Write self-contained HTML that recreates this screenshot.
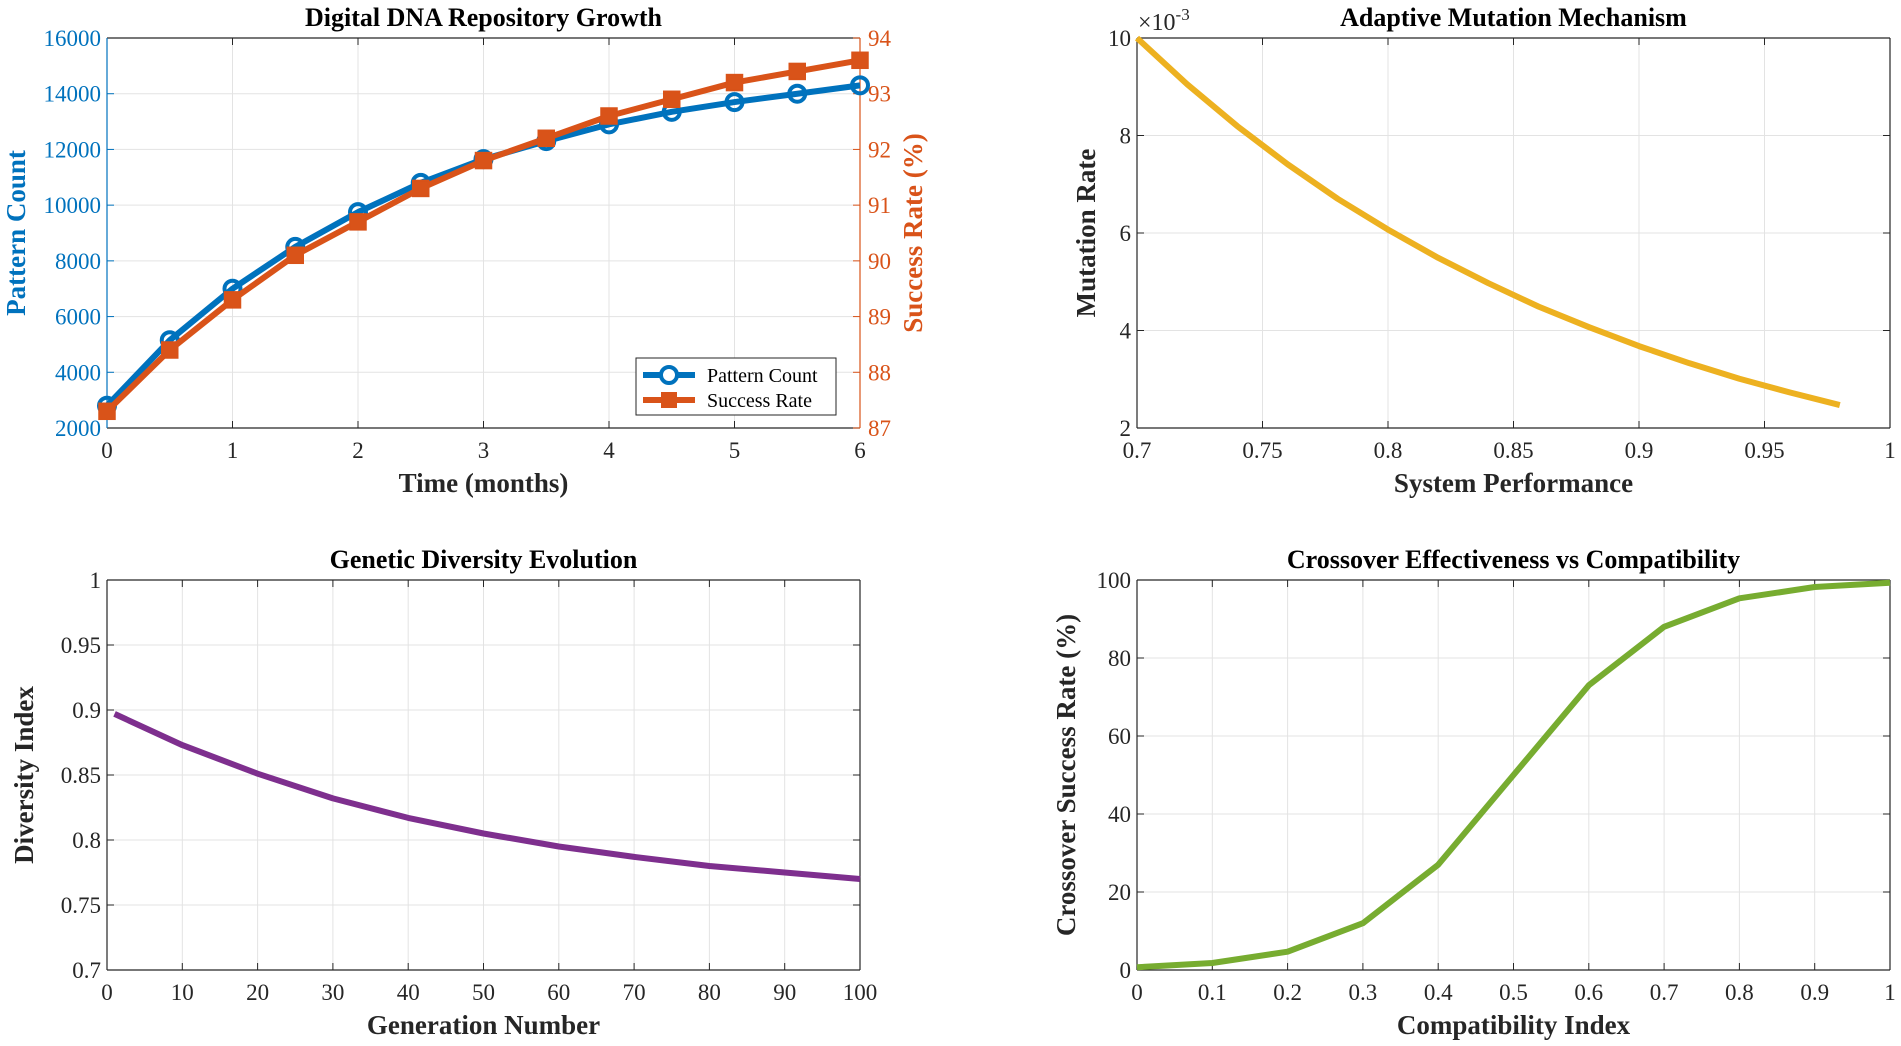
<!DOCTYPE html>
<html><head><meta charset="utf-8"><style>
html,body{margin:0;padding:0;background:#fff;}
svg{display:block;font-family:"Liberation Serif",serif;}
</style></head><body>
<svg id="fig" width="1901" height="1046" viewBox="0 0 1901 1046" xmlns="http://www.w3.org/2000/svg"></svg>
<script>
// Panel 1 data
const p1Months=[0,0.5,1,1.5,2,2.5,3,3.5,4,4.5,5,5.5,6];
const p1Patterns=[2800,5150,7000,8500,9750,10800,11650,12300,12900,13350,13700,14000,14300];
const p1Success=[87.3,88.4,89.3,90.1,90.7,91.3,91.8,92.2,92.6,92.9,93.2,93.4,93.6];
const p1XTicks=[0,1,2,3,4,5,6];
const p1YTicks=[2000,4000,6000,8000,10000,12000,14000,16000];
const p1Y2Ticks=[87,88,89,90,91,92,93,94];
// Panel 2 data
const p2Perf=[0.70,0.72,0.74,0.76,0.78,0.80,0.82,0.84,0.86,0.88,0.90,0.92,0.94,0.96,0.98];
const p2Rate=[10.0,9.05,8.19,7.41,6.70,6.07,5.49,4.97,4.49,4.07,3.68,3.33,3.01,2.73,2.47];
const p2XTicks=[0.7,0.75,0.8,0.85,0.9,0.95,1];
const p2YTicks=[2,4,6,8,10];
// Panel 3 data
const p3Gen=[1,10,20,30,40,50,60,70,80,90,100];
const p3Div=[0.897,0.873,0.851,0.832,0.817,0.805,0.795,0.787,0.780,0.775,0.770];
const p3XTicks=[0,10,20,30,40,50,60,70,80,90,100];
const p3YTicks=[0.7,0.75,0.8,0.85,0.9,0.95,1];
// Panel 4 data
const p4Comp=[0,0.1,0.2,0.3,0.4,0.5,0.6,0.7,0.8,0.9,1];
const p4Rate=[0.7,1.8,4.7,12,27,50,73,88,95.3,98.2,99.3];
const p4XTicks=[0,0.1,0.2,0.3,0.4,0.5,0.6,0.7,0.8,0.9,1];
const p4YTicks=[0,20,40,60,80,100];

const NS="http://www.w3.org/2000/svg";
const svg=document.getElementById('fig');
function mk(tag,attrs,parent,text){const e=document.createElementNS(NS,tag);for(const k in attrs)e.setAttribute(k,attrs[k]);if(text!==undefined)e.textContent=text;(parent||svg).appendChild(e);return e;}

function panel(o){
  const g=mk('g',{});
  
  
  const sx=v=>o.L+(v-o.x0)/(o.x1-o.x0)*(o.R-o.L);
  const sy=v=>o.B-(v-o.y0)/(o.y1-o.y0)*(o.B-o.T);
  o.xt.forEach(t=>{const x=sx(t);
    const l=mk('line',{x1:x,x2:x,y1:o.T,y2:o.B,stroke:'#e3e3e3','stroke-width':1},g);
    
    mk('line',{x1:x,x2:x,y1:o.B,y2:o.B-7,stroke:'#262626','stroke-width':1},g);
    mk('line',{x1:x,x2:x,y1:o.T,y2:o.T+7,stroke:'#262626','stroke-width':1},g);
    const tx=mk('text',{x:x,y:o.B+30,'text-anchor':'middle','font-size':23,fill:'#262626'},g,String(t));
    
  });
  o.yt.forEach(t=>{const y=sy(t);
    const l=mk('line',{x1:o.L,x2:o.R,y1:y,y2:y,stroke:'#e3e3e3','stroke-width':1},g);
    
    mk('line',{x1:o.L,x2:o.L+7,y1:y,y2:y,stroke:o.ycol||'#262626'},g);
    if(!o.y2)mk('line',{x1:o.R,x2:o.R-7,y1:y,y2:y,stroke:'#262626'},g);
    const tx=mk('text',{x:o.L-6,y:y+8,'text-anchor':'end','font-size':23,fill:o.ycol||'#262626'},g,String(t));
    
  });
  mk('line',{x1:o.L,x2:o.R,y1:o.T,y2:o.T,stroke:'#262626','stroke-width':1.2},g);
  mk('line',{x1:o.L,x2:o.R,y1:o.B,y2:o.B,stroke:'#262626','stroke-width':1.2},g);
  mk('line',{x1:o.L,x2:o.L,y1:o.T,y2:o.B,stroke:o.ycol||'#262626','stroke-width':1.2},g);
  mk('line',{x1:o.R,x2:o.R,y1:o.T,y2:o.B,stroke:o.y2?o.y2.col:'#262626','stroke-width':1.2},g);
  const tt=mk('text',{x:(o.L+o.R)/2,y:o.T-12,'text-anchor':'middle','font-size':26,'font-weight':'bold',fill:'#000'},g,o.title);
  
  const xl=mk('text',{x:(o.L+o.R)/2,y:o.B+64,'text-anchor':'middle','font-size':27,'font-weight':'bold',fill:'#262626'},g,o.xlabel);
  
  const yx=o.L-o.ylo;const yc=(o.T+o.B)/2;
  const yl=mk('text',{x:yx,y:yc,'text-anchor':'middle','font-size':27,'font-weight':'bold',fill:o.ycol||'#262626',transform:`rotate(-90 ${yx} ${yc})`},g,o.ylabel);
  
  return {g,sx,sy};
}
function line(g,xs,ys,sx,sy,col,w,name){
  const p=mk('polyline',{points:xs.map((x,i)=>sx(x)+','+sy(ys[i])).join(' '),fill:'none',stroke:col,'stroke-width':w,'stroke-linejoin':'round'},g);
  return p;
}

// Panel 1
const P1={name:'repository-growth-chart',L:107,R:860,T:38,B:428,x0:0,x1:6,y0:2000,y1:16000,xt:p1XTicks,yt:p1YTicks,ycol:'#0072BD',y2:{col:'#D95319'},title:'Digital DNA Repository Growth',xlabel:'Time (months)',ylabel:'Pattern Count',ylo:82};
const a=panel(P1);
const sy2=v=>P1.B-(v-87)/(94-87)*(P1.B-P1.T);
p1Y2Ticks.forEach(t=>{const y=sy2(t);
  mk('line',{x1:P1.R,x2:P1.R-7,y1:y,y2:y,stroke:'#D95319'},a.g);
  const tx=mk('text',{x:P1.R+8,y:y+8,'font-size':23,fill:'#D95319'},a.g,String(t));
  
});
{const yx=P1.R+62,yc=(P1.T+P1.B)/2;
 const t=mk('text',{x:yx,y:yc,'text-anchor':'middle','font-size':27,'font-weight':'bold',fill:'#D95319',transform:`rotate(-90 ${yx} ${yc})`},a.g,'Success Rate (%)');
 }
line(a.g,p1Months,p1Patterns,a.sx,a.sy,'#0072BD',6,'pattern-count-line');
p1Months.forEach((m,i)=>{const c=mk('circle',{cx:a.sx(m),cy:a.sy(p1Patterns[i]),r:8,fill:'none',stroke:'#0072BD','stroke-width':4},a.g);
  });
line(a.g,p1Months,p1Success,a.sx,sy2,'#D95319',6,'success-rate-line');
p1Months.forEach((m,i)=>{const r=mk('rect',{x:a.sx(m)-8,y:sy2(p1Success[i])-8,width:16,height:16,fill:'#D95319',stroke:'#D95319','stroke-width':1.5},a.g);
  });
// legend
{const lg=mk('g',{},a.g);
 mk('rect',{x:636,y:358,width:200,height:57,fill:'#fff',stroke:'#262626','stroke-width':1},lg);
 mk('line',{x1:643,x2:695,y1:375,y2:375,stroke:'#0072BD','stroke-width':6},lg);
 mk('circle',{cx:669,cy:375,r:8,fill:'#fff',stroke:'#0072BD','stroke-width':4},lg);
 const t1=mk('text',{x:707,y:382,'font-size':20,fill:'#000'},lg,'Pattern Count');
 mk('line',{x1:643,x2:695,y1:400,y2:400,stroke:'#D95319','stroke-width':6},lg);
 mk('rect',{x:661,y:392,width:16,height:16,fill:'#D95319'},lg);
 const t2=mk('text',{x:707,y:407,'font-size':20,fill:'#000'},lg,'Success Rate');}

// Panel 2
const b=panel({name:'mutation-mechanism-chart',L:1137,R:1890,T:38,B:428,x0:0.7,x1:1,y0:2,y1:10,xt:p2XTicks,yt:p2YTicks,title:'Adaptive Mutation Mechanism',xlabel:'System Performance',ylabel:'Mutation Rate',ylo:42});
{const t=mk('text',{x:1138,y:30,'font-size':24,fill:'#262626'},b.g,'×10');
 mk('tspan',{dy:-10,'font-size':17},t,'-3');}
line(b.g,p2Perf,p2Rate,b.sx,b.sy,'#EDB120',6,'mutation-rate-line');

// Panel 3
const c=panel({name:'diversity-evolution-chart',L:107,R:860,T:580,B:970,x0:0,x1:100,y0:0.7,y1:1,xt:p3XTicks,yt:p3YTicks,title:'Genetic Diversity Evolution',xlabel:'Generation Number',ylabel:'Diversity Index',ylo:74});
line(c.g,p3Gen,p3Div,c.sx,c.sy,'#7E2F8E',6,'diversity-line');

// Panel 4
const d=panel({name:'crossover-effectiveness-chart',L:1137,R:1890,T:580,B:970,x0:0,x1:1,y0:0,y1:100,xt:p4XTicks,yt:p4YTicks,title:'Crossover Effectiveness vs Compatibility',xlabel:'Compatibility Index',ylabel:'Crossover Success Rate (%)',ylo:62});
line(d.g,p4Comp,p4Rate,d.sx,d.sy,'#77AC30',6,'crossover-rate-line');
</script>
</body></html>
